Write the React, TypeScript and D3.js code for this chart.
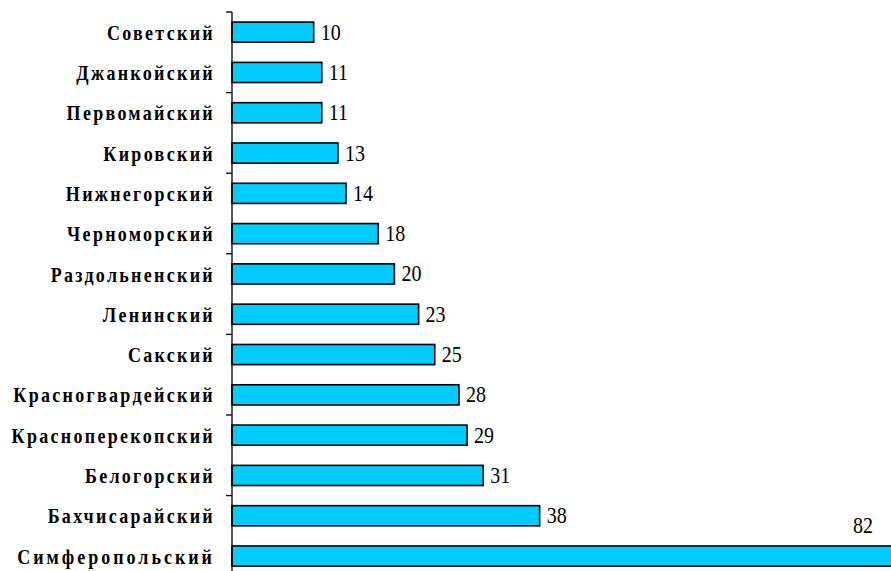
import React from "react";
import * as d3 from "d3";

const categories = [
  "Советский",
  "Джанкойский",
  "Первомайский",
  "Кировский",
  "Нижнегорский",
  "Черноморский",
  "Раздольненский",
  "Ленинский",
  "Сакский",
  "Красногвардейский",
  "Красноперекопский",
  "Белогорский",
  "Бахчисарайский",
  "Симферопольский",
];
const values = [10, 11, 11, 13, 14, 18, 20, 23, 25, 28, 29, 31, 38, 82];

const W = 891;
const H = 571;
const TOP = 12;
const STEP = 40.3;
const AXIS_X = 232;

export default function App() {
  const y = d3
    .scaleBand<string>()
    .domain(categories)
    .range([TOP, TOP + STEP * categories.length])
    .paddingInner(0.5)
    .paddingOuter(0.25);
  const x = d3.scaleLinear().domain([0, 82]).range([233, 233 + 82 * 8.07]);
  const step = y.step();
  const tickYs = d3.range(0, categories.length + 1, 2).map((k) => TOP + k * step);
  const sy = 1.15;

  return (
    <svg
      width={W}
      height={H}
      style={{ position: "fixed", left: 0, top: 0, background: "#fff" }}
    >
      {categories.map((c, i) => {
        const by = y(c)!;
        const bh = y.bandwidth();
        const end = x(values[i]);
        const cy = by + bh / 2;
        const outside = end + 30 > W;
        return (
          <g key={c}>
            <rect
              x={AXIS_X}
              y={by}
              width={end - AXIS_X}
              height={bh}
              fill="#00CCFF"
              stroke="#000"
              strokeWidth={1.6}
            />
            <text
              transform={`translate(215,${cy}) scale(1,1.18)`}
              textAnchor="end"
              dominantBaseline="central"
              fontFamily="'Liberation Serif', 'Times New Roman', serif"
              fontWeight="bold"
              fontSize={18}
              letterSpacing={i === categories.length - 1 ? 3 : 2.3}
              fill="#000"
            >
              {c}
            </text>
            <text
              transform={
                outside
                  ? `translate(873,${by - 20}) scale(1,${sy})`
                  : `translate(${end + 7},${cy}) scale(1,${sy})`
              }
              textAnchor={outside ? "end" : "start"}
              dominantBaseline="central"
              fontFamily="'Liberation Serif', 'Times New Roman', serif"
              fontSize={20}
              fill="#000"
            >
              {values[i]}
            </text>
          </g>
        );
      })}
      <line x1={AXIS_X} x2={AXIS_X} y1={TOP} y2={H} stroke="#000" strokeWidth={1.3} />
      {tickYs.map((t) => (
        <line key={t} x1={AXIS_X - 6} x2={AXIS_X} y1={t} y2={t} stroke="#000" strokeWidth={1.3} />
      ))}
    </svg>
  );
}
